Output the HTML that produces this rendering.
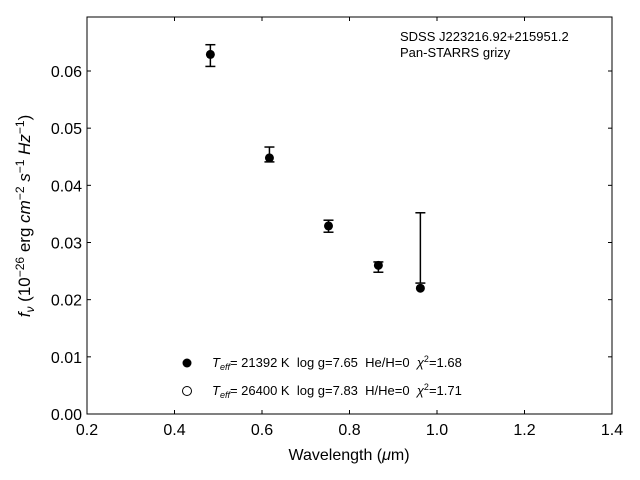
<!DOCTYPE html>
<html><head><meta charset="utf-8"><style>body{margin:0;background:#fff}svg{display:block;font-family:"Liberation Sans","DejaVu Sans",sans-serif}text{white-space:pre}</style></head>
<body>
<svg id="c" width="640" height="480"></svg>
<script>
const wavelengths=[0.482,0.617,0.752,0.866,0.962];
const fluxes=[0.0629,0.0448,0.0329,0.0260,0.0220];
const errLow=[0.0608,0.0441,0.0318,0.0248,0.0229];
const errHigh=[0.0646,0.0467,0.0339,0.0266,0.0352];
const xTicks=[0.2,0.4,0.6,0.8,1.0,1.2,1.4];
const yTicks=[0.00,0.01,0.02,0.03,0.04,0.05,0.06];
const L=87,R=612,T=17,B=414;
const X=v=>L+(v-0.2)/1.2*(R-L);
const Y=v=>B-v/0.06*(B-71);
const svg=document.getElementById('c');const NS='http://www.w3.org/2000/svg';
function mk(t,a,p){const e=document.createElementNS(NS,t);for(const k in a)e.setAttribute(k,a[k]);(p||svg).appendChild(e);return e;}
const frame=mk('rect',{x:L,y:T,width:R-L,height:B-T,fill:'none',stroke:'#000','stroke-width':1});


xTicks.forEach(v=>{const x=X(v);
mk('line',{x1:x,x2:x,y1:B,y2:B-4,stroke:'#000'});mk('line',{x1:x,x2:x,y1:T,y2:T+4,stroke:'#000'});
const t=mk('text',{x:x,y:B+21,'font-size':16,'text-anchor':'middle'});t.textContent=v.toFixed(1);

});
yTicks.forEach(v=>{const y=Y(v);
mk('line',{x1:L,x2:L+4,y1:y,y2:y,stroke:'#000'});mk('line',{x1:R,x2:R-4,y1:y,y2:y,stroke:'#000'});
const t=mk('text',{x:L-5,y:y+6,'font-size':16,'text-anchor':'end'});t.textContent=v.toFixed(2);

});
wavelengths.forEach((w,i)=>{const x=X(w);
const e=mk('g',{stroke:'#000','stroke-width':1.5});


mk('line',{x1:x,x2:x,y1:Y(errLow[i]),y2:Y(errHigh[i])},e);
mk('line',{x1:x-5,x2:x+5,y1:Y(errLow[i]),y2:Y(errLow[i])},e);
mk('line',{x1:x-5,x2:x+5,y1:Y(errHigh[i]),y2:Y(errHigh[i])},e);
const c=mk('circle',{cx:x,cy:Y(fluxes[i]),r:4.5,fill:'#000'});

});
</script>
<svg width="640" height="480" style="position:absolute;left:0;top:0">
<text x="349" y="460" font-size="16" text-anchor="middle">Wavelength (<tspan font-style="italic">μ</tspan>m)</text>
<text transform="translate(30,216) rotate(-90)" font-size="17" text-anchor="middle"><tspan font-style="italic">f</tspan><tspan font-style="italic" font-size="12" dy="4">ν</tspan><tspan dy="-4"> (10</tspan><tspan font-size="12" dy="-6">−26</tspan><tspan dy="6"> erg </tspan><tspan font-style="italic">cm</tspan><tspan font-size="12" dy="-6">−2</tspan><tspan dy="6" font-style="italic"> s</tspan><tspan font-size="12" dy="-6">−1</tspan><tspan dy="6" font-style="italic"> Hz</tspan><tspan font-size="12" dy="-6">−1</tspan><tspan dy="6">)</tspan></text>
<text x="400" y="41" font-size="13">SDSS J223216.92+215951.2</text>
<text x="400" y="57" font-size="13">Pan-STARRS grizy</text>
<g font-size="13">
<circle cx="187" cy="363" r="4.5" fill="#000"/>
<text x="212" y="367"><tspan font-style="italic">T</tspan><tspan font-style="italic" font-size="9" dy="3">eff</tspan><tspan dy="-3">= 21392 K  log g=7.65  He/H=0  </tspan><tspan font-style="italic">χ</tspan><tspan font-size="9" dy="-5">2</tspan><tspan dy="5">=1.68</tspan></text>
<circle cx="187" cy="391" r="4.5" fill="#fff" stroke="#000"/>
<text x="212" y="395"><tspan font-style="italic">T</tspan><tspan font-style="italic" font-size="9" dy="3">eff</tspan><tspan dy="-3">= 26400 K  log g=7.83  H/He=0  </tspan><tspan font-style="italic">χ</tspan><tspan font-size="9" dy="-5">2</tspan><tspan dy="5">=1.71</tspan></text>
</g>
</svg>
</body></html>
